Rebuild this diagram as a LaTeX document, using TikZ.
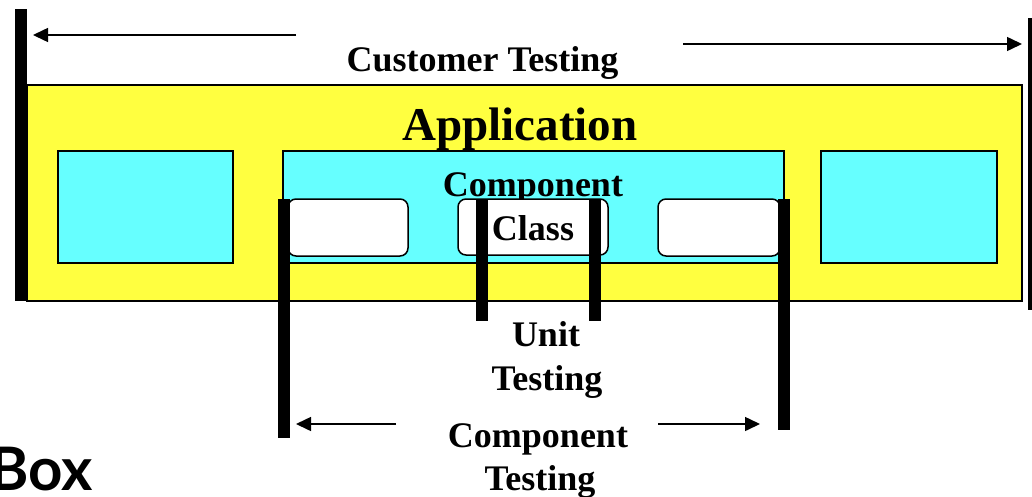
\documentclass[tikz,border=0pt]{standalone}
\usepackage{fontspec}
\setmainfont{Liberation Serif}
\newfontfamily\boxfont{Lato}
\usetikzlibrary{arrows.meta}
\definecolor{appyellow}{RGB}{255,255,64}
\definecolor{compcyan}{RGB}{102,255,255}
\tikzset{
  frame/.style={draw=black, line width=1.5pt, inner sep=0pt, outer sep=0pt, anchor=north west},
  appbox/.style={frame, fill=appyellow},
  compbox/.style={frame, fill=compcyan},
  classbox/.style={frame, fill=white, rounded corners=8pt},
  bar/.style={line width=12pt, line cap=butt},
  span/.style={line width=1.5pt, -{Triangle[length=15pt,width=14pt]}},
  lbl/.style={font=\bfseries\fontsize{36}{40}\selectfont, anchor=base, inner sep=0pt},
}
\begin{document}
\begin{tikzpicture}[x=1pt,y=-1pt]
\useasboundingbox (0,0) rectangle (1032,496);
% boxes
\node[appbox, minimum width=995pt, minimum height=216pt] (app) at (27,85) {};
\node[lbl, font=\bfseries\fontsize{47}{52}\selectfont] (apptxt) at (520,140) {Application};
\node[compbox, minimum width=175pt, minimum height=112pt] (compL) at (58,151) {};
\node[compbox, minimum width=501pt, minimum height=112pt] (compM) at (283,151) {};
\node[compbox, minimum width=176pt, minimum height=112pt] (compR) at (821,151) {};
\node[lbl] (comptxt) at (533,196) {Component};
\node[classbox, minimum width=120pt, minimum height=57pt] (classL) at (288,199) {};
\node[classbox, minimum width=150pt, minimum height=56pt] (classM) at (458,199) {};
\node[classbox, minimum width=122pt, minimum height=57pt] (classR) at (658,199) {};
\node[lbl] (classtxt) at (533,240) {Class};
% bars (customer)
\coordinate (custLtop) at (21,9);
\coordinate (custLbot) at (21,301);
\coordinate (custRtop) at (1032,18);
\coordinate (custRbot) at (1032,310);
\draw[bar] (custLtop) -- (custLbot);
\draw[line width=8pt] (custRtop) -- (custRbot);
% component bars
\coordinate (compLtop) at (284,199);
\coordinate (compLbot) at (284,438);
\coordinate (compRtop) at (784,199);
\coordinate (compRbot) at (784,430);
\draw[bar] (compLtop) -- (compLbot);
\draw[bar] (compRtop) -- (compRbot);
% unit bars
\coordinate (unitLtop) at (482,199);
\coordinate (unitLbot) at (482,321);
\coordinate (unitRtop) at (594.5,199);
\coordinate (unitRbot) at (594.5,321);
\draw[bar] (unitLtop) -- (unitLbot);
\draw[bar] (unitRtop) -- (unitRbot);
% labels
\node[lbl] (custtxt) at (482.5,71) {Customer Testing};
\node[lbl] (unit1) at (546,346) {Unit};
\node[lbl] (unit2) at (547,390) {Testing};
\node[lbl] (ct1) at (538,447) {Component};
\node[lbl] (ct2) at (540,490) {Testing};
% arrows
\coordinate (custAl) at (296,35);
\coordinate (custAlTip) at (33,35);
\coordinate (custAr) at (683,44);
\coordinate (custArTip) at (1022,44);
\draw[span] (custAl) -- (custAlTip);
\draw[span] (custAr) -- (custArTip);
\coordinate (compAl) at (396,424);
\coordinate (compAlTip) at (296,424);
\coordinate (compAr) at (658,424);
\coordinate (compArTip) at (760,424);
\draw[span] (compAl) -- (compAlTip);
\draw[span] (compAr) -- (compArTip);
% cut-off title
\node[anchor=base east, inner sep=0pt, font=\boxfont\bfseries\fontsize{60}{66}\selectfont] (boxtxt) at (93,490) {Box};
\end{tikzpicture}
\end{document}
